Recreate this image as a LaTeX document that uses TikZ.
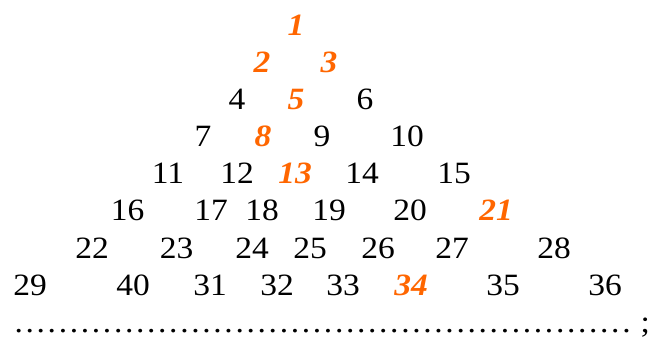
\documentclass[tikz,border=0pt]{standalone}
\usepackage{fontspec}
\setmainfont{Liberation Serif}[FakeStretch=1.08]
\definecolor{fibo}{RGB}{255,102,0}
\tikzset{
  num/.style={anchor=base, inner sep=0pt, font=\fontsize{31}{31}\selectfont},
  fib/.style={anchor=base, inner sep=0pt, text=fibo, font=\fontsize{31}{31}\selectfont\bfseries\itshape}
}
\begin{document}
\begin{tikzpicture}[x=1pt,y=-1pt]
\useasboundingbox (0,0) rectangle (655,338);
% row 1
\node[fib] (n1) at (296,35) {1};
% row 2
\node[fib] (n2) at (262,72) {2};
\node[fib] (n3) at (329,72) {3};
% row 3
\node[num] (n4) at (237,109) {4};
\node[fib] (n5) at (296,109) {5};
\node[num] (n6) at (365,109) {6};
% row 4
\node[num] (n7) at (203,146.5) {7};
\node[fib] (n8) at (263,146.5) {8};
\node[num] (n9) at (322,146.5) {9};
\node[num] (n10) at (407,146.5) {10};
% row 5
\node[num] (n11) at (168,183.5) {11};
\node[num] (n12) at (237,183.5) {12};
\node[fib] (n13) at (295,183.5) {13};
\node[num] (n14) at (362,183.5) {14};
\node[num] (n15) at (454,183.5) {15};
% row 6
\node[num] (n16) at (127.5,220.5) {16};
\node[num] (n17) at (211,220.5) {17};
\node[num] (n18) at (262,220.5) {18};
\node[num] (n19) at (329,220.5) {19};
\node[num] (n20) at (410,220.5) {20};
\node[fib] (n21) at (496,220.5) {21};
% row 7
\node[num] (n22) at (92,258) {22};
\node[num] (n23) at (176.5,258) {23};
\node[num] (n24) at (252,258) {24};
\node[num] (n25) at (310,258) {25};
\node[num] (n26) at (378,258) {26};
\node[num] (n27) at (452,258) {27};
\node[num] (n28) at (554,258) {28};
% row 8
\node[num] (n29) at (30,295) {29};
\node[num] (n40) at (133,295) {40};
\node[num] (n31) at (210,295) {31};
\node[num] (n32) at (277,295) {32};
\node[num] (n33) at (343,295) {33};
\node[fib] (n34) at (411,295) {34};
\node[num] (n35) at (503,295) {35};
\node[num] (n36) at (605,295) {36};
% row 9
\node[num, anchor=base west] (dots) at (7.5,332) {\makebox[629.85pt][l]{\cleaders\hbox to 11.05pt{\hss.\hss}\hfill}\hspace{3pt};};
\end{tikzpicture}
\end{document}
